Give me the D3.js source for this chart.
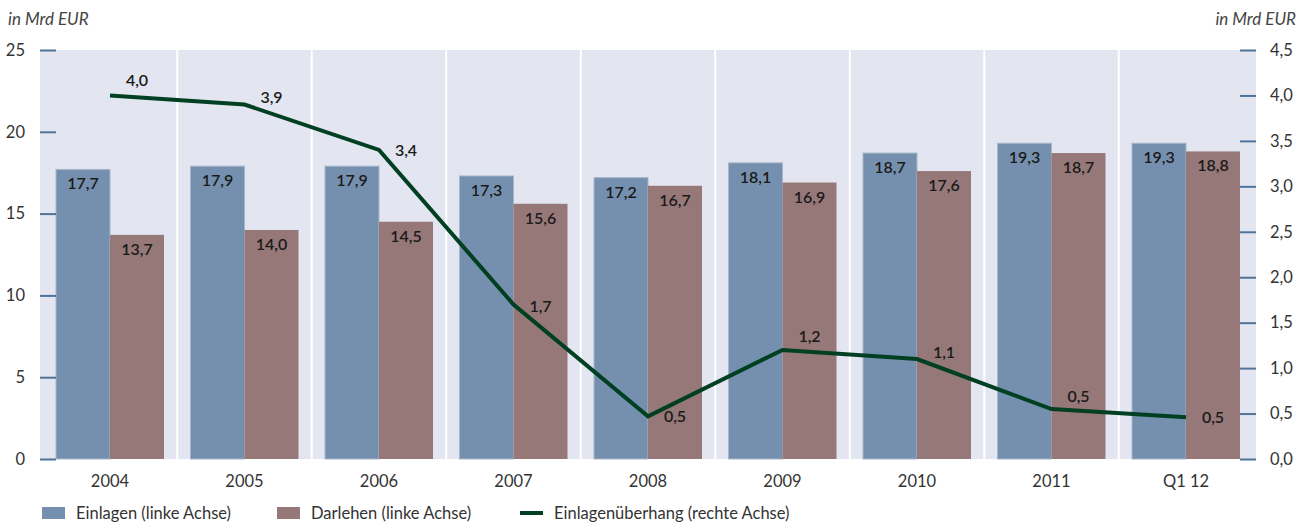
<!DOCTYPE html>
<html>
<head>
<meta charset="utf-8">
<script src="https://cdn.jsdelivr.net/npm/d3@7"></script>
<style>
  body { margin: 0; background: #fff; }
  svg { display: block; font-family: Lato, "Open Sans", sans-serif; }
</style>
</head>
<body>
<div id="chart"></div>
<script>
// data
const categories = ["2004", "2005", "2006", "2007", "2008", "2009", "2010", "2011", "Q1 12"];
const einlagen = [17.7, 17.9, 17.9, 17.3, 17.2, 18.1, 18.7, 19.3, 19.3];
const darlehen = [13.7, 14.0, 14.5, 15.6, 16.7, 16.9, 17.6, 18.7, 18.8];
const ueberhang = [4.0, 3.9, 3.4, 1.7, 0.47, 1.2, 1.1, 0.55, 0.46];
const ueberhangLabels = ["4,0", "3,9", "3,4", "1,7", "0,5", "1,2", "1,1", "0,5", "0,5"];
const leftTicks = [0, 5, 10, 15, 20, 25];
const rightTicks = [0, 0.5, 1, 1.5, 2, 2.5, 3, 3.5, 4, 4.5];

// label vertical nudges for the line labels (styling only)
const lineLabelDy = [-15, -7, 0, 2, 0, -14, -7, -13, 0];

const W = 1305, H = 522;
const plot = { left: 40, right: 1256, top: 50, bottom: 459 };

const colBlue = "#7590ae", colRed = "#967879", colLine = "#003f22";
const colBg = "#e3e6f0", colTick = "#4f7299", colText = "#333";

const de = d3.formatLocale({ decimal: ",", thousands: ".", grouping: [3], currency: ["", " €"] });
const f1 = de.format(".1f");

const svg = d3.select("#chart").append("svg")
  .attr("width", W).attr("height", H);

// scales
const x = d3.scaleBand().domain(categories).range([42.75, 1253.25]).paddingInner(0).paddingOuter(0);
const yL = d3.scaleLinear().domain([0, 25]).range([plot.bottom, plot.top]);
const yR = d3.scaleLinear().domain([0, 4.5]).range([plot.bottom, plot.top]);
const barW = 54;

// background
svg.append("rect")
  .attr("x", plot.left).attr("y", plot.top)
  .attr("width", plot.right - plot.left).attr("height", plot.bottom - plot.top)
  .attr("fill", colBg);

// white separators between categories
svg.selectAll("line.sep")
  .data(categories.slice(1))
  .enter().append("line")
  .attr("class", "sep")
  .attr("x1", d => x(d)).attr("x2", d => x(d))
  .attr("y1", plot.top).attr("y2", plot.bottom)
  .attr("stroke", "#fff").attr("stroke-width", 2);

// bars
const cx = d => x(d) + x.bandwidth() / 2;

svg.selectAll("rect.ein")
  .data(categories)
  .enter().append("rect")
  .attr("class", "ein")
  .attr("x", d => cx(d) - barW)
  .attr("y", (d, i) => yL(einlagen[i]))
  .attr("width", barW)
  .attr("height", (d, i) => yL(0) - yL(einlagen[i]))
  .attr("fill", colBlue)
  .attr("stroke", "#a7b6ca").attr("stroke-width", 1);

svg.selectAll("rect.dar")
  .data(categories)
  .enter().append("rect")
  .attr("class", "dar")
  .attr("x", d => cx(d))
  .attr("y", (d, i) => yL(darlehen[i]))
  .attr("width", barW)
  .attr("height", (d, i) => yL(0) - yL(darlehen[i]))
  .attr("fill", colRed);

// bar value labels
svg.selectAll("text.einv")
  .data(categories)
  .enter().append("text")
  .attr("x", d => cx(d) - barW / 2)
  .attr("y", (d, i) => yL(einlagen[i]) + 20)
  .attr("text-anchor", "middle")
  .attr("font-size", 16).attr("font-weight", 600).attr("fill", "#1a1a1a")
  .text((d, i) => f1(einlagen[i]));

svg.selectAll("text.darv")
  .data(categories)
  .enter().append("text")
  .attr("x", d => cx(d) + barW / 2)
  .attr("y", (d, i) => yL(darlehen[i]) + 20)
  .attr("text-anchor", "middle")
  .attr("font-size", 16).attr("font-weight", 600).attr("fill", "#1a1a1a")
  .text((d, i) => f1(darlehen[i]));

// line
const line = d3.line()
  .x((d, i) => cx(categories[i]))
  .y(d => yR(d));

svg.append("path")
  .datum(ueberhang)
  .attr("d", line)
  .attr("fill", "none")
  .attr("stroke", colLine)
  .attr("stroke-width", 4);

svg.selectAll("text.linev")
  .data(ueberhang)
  .enter().append("text")
  .attr("x", (d, i) => cx(categories[i]) + 27)
  .attr("y", (d, i) => yR(d) + lineLabelDy[i])
  .attr("dy", "0.35em")
  .attr("text-anchor", "middle")
  .attr("font-size", 16).attr("font-weight", 600).attr("fill", "#1a1a1a")
  .text((d, i) => ueberhangLabels[i]);

// left axis
const axL = svg.append("g")
  .attr("transform", `translate(${plot.left + 16},0)`)
  .call(d3.axisLeft(yL).tickValues(leftTicks).tickSize(16).tickPadding(15).tickFormat(d3.format("d")));
axL.select(".domain").remove();
axL.selectAll(".tick line").attr("stroke", colTick).attr("stroke-width", 2);
axL.selectAll("text").attr("font-size", 16.5).attr("fill", colText).attr("font-family", "Lato, sans-serif");

// right axis
const axR = svg.append("g")
  .attr("transform", `translate(${plot.right - 16},0)`)
  .call(d3.axisRight(yR).tickValues(rightTicks).tickSize(16).tickPadding(14).tickFormat(f1));
axR.select(".domain").remove();
axR.selectAll(".tick line").attr("stroke", colTick).attr("stroke-width", 2);
axR.selectAll("text").attr("font-size", 16.5).attr("fill", colText).attr("font-family", "Lato, sans-serif");

// x axis labels
const axX = svg.append("g")
  .attr("transform", `translate(0,${plot.bottom})`)
  .call(d3.axisBottom(x).tickSize(0).tickPadding(16));
axX.select(".domain").remove();
axX.selectAll("text").attr("font-size", 16.5).attr("fill", colText).attr("font-family", "Lato, sans-serif");

// unit labels
svg.append("text")
  .attr("x", 8).attr("y", 25)
  .attr("font-size", 17).attr("font-style", "italic").attr("fill", "#444")
  .text("in Mrd EUR");
svg.append("text")
  .attr("x", 1296).attr("y", 25)
  .attr("text-anchor", "end")
  .attr("font-size", 17).attr("font-style", "italic").attr("fill", "#444")
  .text("in Mrd EUR");

// legend
const legend = svg.append("g").attr("transform", "translate(0,513)");
const legItems = [
  { label: "Einlagen (linke Achse)", color: colBlue, type: "rect", x: 42 },
  { label: "Darlehen (linke Achse)", color: colRed, type: "rect", x: 277 },
  { label: "Einlagenüberhang (rechte Achse)", color: colLine, type: "line", x: 520 }
];
legItems.forEach(it => {
  if (it.type === "rect") {
    legend.append("rect").attr("x", it.x).attr("y", -6).attr("width", 23).attr("height", 12).attr("fill", it.color);
  } else {
    legend.append("rect").attr("x", it.x).attr("y", -2).attr("width", 23).attr("height", 4).attr("fill", it.color);
  }
  legend.append("text")
    .attr("x", it.x + 34).attr("y", 0).attr("dy", "0.35em")
    .attr("font-size", 16.5).attr("fill", colText)
    .text(it.label);
});
</script>
</body>
</html>
